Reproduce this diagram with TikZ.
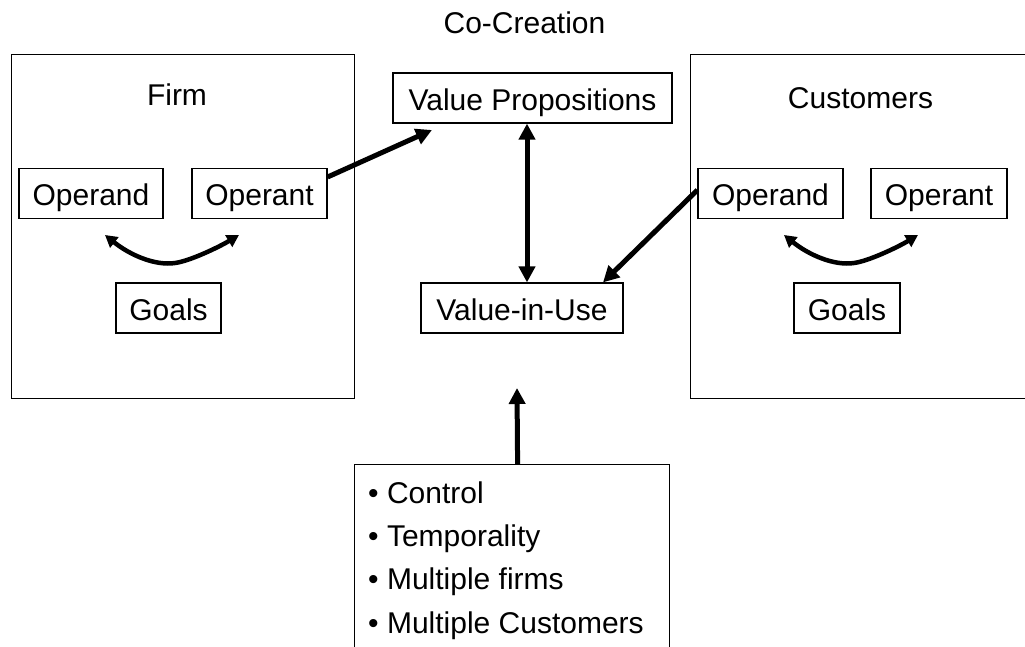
\documentclass[tikz,border=0pt]{standalone}
\usepackage{fontspec}
\setmainfont{Liberation Sans}
\usetikzlibrary{arrows.meta}
\begin{document}
\begin{tikzpicture}[x=1pt,y=-1pt,
  every node/.style={font=\fontsize{30}{36}\selectfont},
  box/.style={draw, line width=1.2pt, inner sep=0pt, text height=24pt, text depth=0pt, minimum height=50pt},
  frame/.style={draw, line width=1.2pt, inner sep=0pt, anchor=north west},
  title/.style={anchor=base, inner sep=0pt},
  item/.style={anchor=base west, inner sep=0pt},
  bigarrow/.style={line width=5pt, -{Triangle[length=16pt,width=16pt]}},
  dblarrow/.style={line width=5pt, {Triangle[length=16pt,width=16pt]}-{Triangle[length=16pt,width=16pt]}},
  curvearrow/.style={line width=4.5pt, {Triangle[length=12pt,width=13pt]}-{Triangle[length=12pt,width=13pt]}}]
\useasboundingbox (0,0) rectangle (1025,646);
\clip (0,0) rectangle (1025,646);

% frames
\node[frame, minimum width=343pt, minimum height=344pt] (firm) at (11,54) {};
\node[frame, minimum width=360pt, minimum height=344pt] (cust) at (690,54) {};
\node[frame, minimum width=315pt, minimum height=250pt] (bl) at (354,464) {};

% titles
\node[title] (cocreation) at (524.5,33) {Co-Creation};
\node[title] (firmt) at (177,105) {Firm};
\node[title] (custt) at (860.5,108) {Customers};

% firm boxes
\node[box, minimum width=144pt] (fod) at (91,193.5) {Operand};
\node[box, minimum width=135pt] (fop) at (259.5,193.5) {Operant};
\node[box, minimum width=105pt] (fgo) at (168.5,308) {Goals};

% center boxes
\node[box, minimum width=279pt] (vp) at (532.5,98) {Value Propositions};
\node[box, minimum width=202pt] (viu) at (522,308) {Value-in-Use};

% customer boxes
\node[box, minimum width=145pt] (cod) at (770.5,193.5) {Operand};
\node[box, minimum width=136pt] (cop) at (939,193.5) {Operant};
\node[box, minimum width=106pt] (cgo) at (847,308) {Goals};

% list
\node[item] (i1) at (368,503) {• Control};
\node[item] (i2) at (368,546.3) {• Temporality};
\node[item] (i3) at (368,589.6) {• Multiple firms};
\node[item] (i4) at (368,633) {• Multiple Customers};

% free ends
\coordinate (vpin) at (432,130);
\coordinate (blup) at (517,388);
\coordinate (fl) at (105,235);
\coordinate (fm) at (175,263);
\coordinate (fr) at (239,235);
\coordinate (cl) at (784,235);
\coordinate (cm) at (854,263);
\coordinate (cr) at (918,235);

% connectors
\draw[bigarrow] ([yshift=16.5pt]fop.east) -- (vpin);
\draw[bigarrow] ([yshift=3.5pt]cod.west) -- ([xshift=81pt]viu.north);
\draw[dblarrow] ([xshift=-5.5pt]vp.south) -- ([xshift=5pt]viu.north);
\draw[bigarrow] ([xshift=5.5pt]bl.north) -- (blup);
\draw[curvearrow] (fl) .. controls +(25,20) and +(-20,3) .. (fm) .. controls +(15,-2) and +(-20,12) .. (fr);
\draw[curvearrow] (cl) .. controls +(25,20) and +(-20,3) .. (cm) .. controls +(15,-2) and +(-20,12) .. (cr);
\end{tikzpicture}
\end{document}
